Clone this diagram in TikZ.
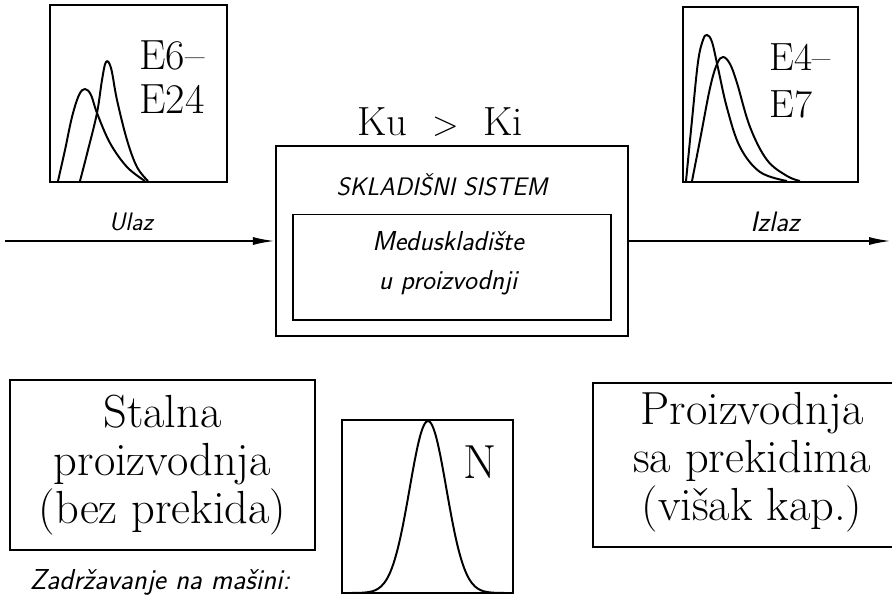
\documentclass[tikz,border=0pt]{standalone}
\usepackage{fontspec}
\usetikzlibrary{positioning,arrows.meta}

\begin{document}
\begin{tikzpicture}[x=0.025cm, y=-0.025cm,
  box/.style={draw, line width=1.4pt, inner sep=0pt},
  big/.style={font=\fontsize{30}{31}\selectfont, align=left, inner sep=0pt},
  word/.style={font=\fontsize{33}{34}\selectfont, align=center, inner sep=0pt},
  lbl/.style={font=\sffamily\itshape\fontsize{18}{22}\selectfont, inner sep=0pt},
  curve/.style={line width=1.4pt, smooth, tension=0.6},
  arr/.style={-{Latex[length=0.55cm, width=0.2cm]}, line width=1.4pt},
]
\useasboundingbox (0,0) rectangle (892,598);
\clip (0,0) rectangle (892,598);

% storage system
\node[box, minimum width=8.8cm, minimum height=4.75cm] (sys) at (452,241) {};
\node[box, minimum width=7.95cm, minimum height=2.625cm] (buf) at (452,267) {};
\node[lbl] (sysname) at (442,185) {SKLADIŠNI SISTEM};
\node[lbl, align=center, font=\sffamily\itshape\fontsize{19.5}{28}\selectfont] (bufname) at (448,263)
  {Meduskladište\\u proizvodnji};
\node[big, font=\fontsize{29}{31}\selectfont] (cond) at (440,122) {Ku\hspace{.6em}$>$\hspace{.6em}Ki};

% flow in and out
\coordinate (in) at (5,241);
\coordinate (out) at (891,241);
\draw[arr] (in) -- (sys.west);
\draw[arr] (sys.east) -- (out);
\node[lbl] (inname) at (131,222) {Ulaz};
\node[lbl, font=\sffamily\itshape\fontsize{20}{22}\selectfont] (outname) at (775,222) {Izlaz};

% input distributions
\node[box, minimum size=4.425cm] (inbox) at (138.5,93.5) {};
\draw[curve] plot coordinates {(58,181) (65,150) (72,117) (79,95) (85,89) (91,95) (97,113) (110,143) (127,167) (145,181)};
\draw[curve] plot coordinates {(80,181) (88,150) (97,113) (102,80) (106,62) (111,68) (117,100) (127,140) (137,167) (148,181)};
\node[big, anchor=west] (inrange) at (139,77) {E6--\\E24};

% output distributions
\node[box, minimum size=4.375cm] (outbox) at (770.5,94.5) {};
\draw[curve] plot coordinates {(686,181) (692,120) (698,62) (703,40) (707,35) (712,42) (718,68) (727,108) (740,147) (760,172) (787,181)};
\draw[curve] plot coordinates {(692,181) (700,140) (710,88) (717,64) (723,57) (730,64) (737,83) (750,127) (767,160) (787,176) (800,181)};
\node[big, anchor=west, font=\fontsize{28}{34}\selectfont] (outrange) at (769,81) {E4--\\E7};

% production modes
\node[box, word, minimum width=7.625cm, minimum height=4.25cm] (steady) at (162.5,465)
  {Stalna\\proizvodnja\\(bez prekida)};
\node[box, minimum width=7.8cm, minimum height=4.1cm] (broken) at (749,465) {};
\node[word] (brokentxt) at (752,462) {Proizvodnja\\sa prekidima\\(višak kap.)};

% normal distribution
\node[box, minimum width=4.275cm, minimum height=4.325cm] (nbox) at (427.5,506.5) {};
\draw[curve] plot[domain=344:512, samples=60] (\x,{593-172*exp(-(\x-428)*(\x-428)/676)});
\node[big, font=\fontsize{34}{36}\selectfont] (nname) at (480,462) {N};
\node[lbl, font=\sffamily\itshape\fontsize{20.5}{22}\selectfont] (hold) at (160,582) {Zadržavanje na mašini:};

\end{tikzpicture}
\end{document}
